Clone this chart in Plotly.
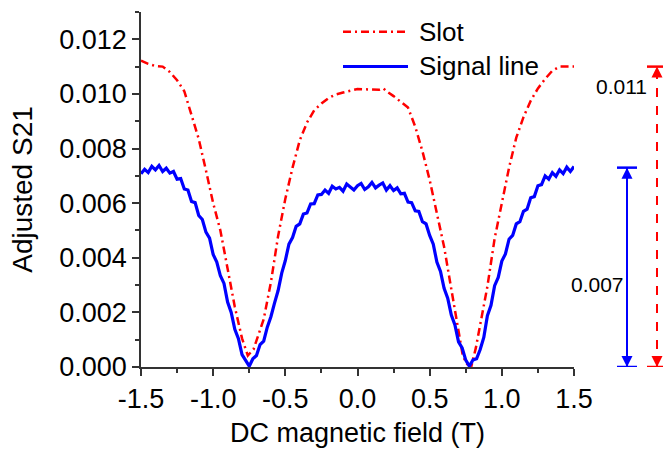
import numpy as np
import plotly.graph_objects as go

# ---- data -------------------------------------------------------------
# Slot response (dash-dot trace)
field_slot = [-1.50, -1.45, -1.40, -1.35, -1.30, -1.25, -1.20, -1.15, -1.10, -1.05,
              -1.00, -0.95, -0.90, -0.85, -0.80, -0.76, -0.72, -0.70, -0.65, -0.60,
              -0.55, -0.50, -0.45, -0.40, -0.35, -0.30, -0.25, -0.20, -0.15, -0.10,
              -0.05, 0.00, 0.05, 0.10, 0.15, 0.18, 0.20, 0.25, 0.30, 0.35,
              0.40, 0.45, 0.50, 0.55, 0.60, 0.65, 0.70, 0.73, 0.76, 0.79,
              0.82, 0.85, 0.90, 0.95, 1.00, 1.05, 1.10, 1.15, 1.20, 1.25,
              1.30, 1.35, 1.40, 1.45, 1.50]
s21_slot = [0.01122, 0.01110, 0.01102, 0.01100, 0.01080, 0.01050, 0.01010, 0.00925, 0.00835, 0.00720,
            0.00600, 0.00500, 0.00355, 0.00220, 0.00105, 0.00042, 0.00065, 0.00095, 0.00175, 0.00310,
            0.00480, 0.00616, 0.00730, 0.00830, 0.00895, 0.00940, 0.00965, 0.00985, 0.00998, 0.01005,
            0.01012, 0.01018, 0.01017, 0.01015, 0.01015, 0.01020, 0.01010, 0.00992, 0.00972, 0.00950,
            0.00880, 0.00790, 0.00685, 0.00565, 0.00440, 0.00285, 0.00125, 0.00040, 0.00010, 0.00005,
            0.00070, 0.00155, 0.00295, 0.00470, 0.00600, 0.00730, 0.00840, 0.00915, 0.00975, 0.01020,
            0.01055, 0.01085, 0.01100, 0.01100, 0.01100]

# Signal line response (solid trace), sampled every 0.025 T
field_signal = np.round(np.linspace(-1.5, 1.5, 121), 3)
s21_signal = [0.00708, 0.00724, 0.00712, 0.00735, 0.00722, 0.00738, 0.00716, 0.00728, 0.00710, 0.00716,
              0.00688, 0.00690, 0.00652, 0.00648, 0.00606, 0.00602, 0.00555, 0.00540, 0.00494, 0.00472,
              0.00412, 0.00384, 0.00334, 0.00306, 0.00238, 0.00200, 0.00138, 0.00104, 0.00045, 0.00025,
              0.00003, 0.00030, 0.00042, 0.00082, 0.00095, 0.00146, 0.00184, 0.00234, 0.00280, 0.00344,
              0.00390, 0.00450, 0.00474, 0.00515, 0.00524, 0.00560, 0.00564, 0.00597, 0.00598, 0.00630,
              0.00632, 0.00648, 0.00636, 0.00662, 0.00652, 0.00658, 0.00644, 0.00670, 0.00660, 0.00648,
              0.00664, 0.00672, 0.00650, 0.00660, 0.00676, 0.00656, 0.00666, 0.00674, 0.00648, 0.00664,
              0.00646, 0.00656, 0.00634, 0.00636, 0.00604, 0.00602, 0.00572, 0.00570, 0.00532, 0.00524,
              0.00482, 0.00450, 0.00384, 0.00350, 0.00288, 0.00252, 0.00190, 0.00154, 0.00092, 0.00070,
              0.00025, 0.00003, 0.00026, 0.00030, 0.00064, 0.00108, 0.00188, 0.00226, 0.00298, 0.00328,
              0.00388, 0.00414, 0.00468, 0.00482, 0.00524, 0.00532, 0.00570, 0.00578, 0.00620, 0.00624,
              0.00664, 0.00668, 0.00700, 0.00688, 0.00712, 0.00698, 0.00722, 0.00708, 0.00732, 0.00716,
              0.00734]

# Axis ticks
x_tickvals = [-1.5, -1.0, -0.5, 0.0, 0.5, 1.0, 1.5]
x_ticktext = ["-1.5", "-1.0", "-0.5", "0.0", "0.5", "1.0", "1.5"]

# Peak-to-dip spans marked at the right of the plot
span_names = ["Signal line", "Slot"]
span_values = [0.0073, 0.011]

RED = "#ff0000"
BLUE = "#0000ff"
FONT = "Liberation Sans, Arial, sans-serif"
SLOT_DASH = "8px,4px,2px,4px"

fig = go.Figure()
fig.add_trace(go.Scatter(x=field_slot, y=s21_slot, mode="lines", name="Slot",
                         line=dict(color=RED, width=2.5, dash=SLOT_DASH),
                         showlegend=False))
fig.add_trace(go.Scatter(x=field_signal, y=s21_signal, mode="lines", name="Signal line",
                         line=dict(color=BLUE, width=3.2), showlegend=False))

# ---- geometry helpers (plot area in pixels) ----------------------------
W, H = 663, 455
L, R, T, B = 141, 89, 12, 84
pw, ph = W - L - R, H - T - B


def px(xp):
    return (xp - L) / pw


def py(yp):
    return (H - B - yp) / ph


shapes = []
annotations = []

# hand-drawn legend
legend_rows = [("Slot", RED, SLOT_DASH, 2.5, 32), ("Signal line", BLUE, "solid", 3, 67)]
for label, color, dash, lw, yrow in legend_rows:
    shapes.append(dict(type="line", xref="paper", yref="paper",
                       x0=px(343), x1=px(408), y0=py(yrow), y1=py(yrow),
                       line=dict(color=color, width=lw, dash=dash)))
    annotations.append(dict(xref="paper", yref="paper", x=px(417), y=py(yrow),
                            text=label, showarrow=False, xanchor="left", yanchor="middle",
                            font=dict(family=FONT, size=26, color="black")))

# span markers
span_style = {
    "Signal line": dict(color=BLUE, xc=627, dash="solid", label_xy=(597, 288)),
    "Slot": dict(color=RED, xc=657, dash="dash", label_xy=(621, 87)),
}
for name, val in zip(span_names, span_values):
    st = span_style[name]
    xc = px(st["xc"])
    cap0, cap1 = px(st["xc"] - 10), px(st["xc"] + 10)
    shapes.append(dict(type="line", xref="paper", yref="y", x0=xc, x1=xc, y0=0, y1=val,
                       line=dict(color=st["color"], width=2, dash=st["dash"])))
    for yv in (0, val):
        shapes.append(dict(type="line", xref="paper", yref="y", x0=cap0, x1=cap1,
                           y0=yv, y1=yv, line=dict(color=st["color"], width=2.5)))
    # arrowheads at both ends
    for yv, ay in ((val, 12), (0, -12)):
        annotations.append(dict(xref="paper", yref="y", x=xc, y=yv, text="",
                                showarrow=True, arrowhead=2, arrowsize=1.1, arrowwidth=2,
                                arrowcolor=st["color"], ax=0, ay=ay, standoff=0))
    lx, ly = st["label_xy"]
    annotations.append(dict(xref="paper", yref="paper", x=px(lx), y=py(ly),
                            text=f"{val:.3f}", showarrow=False,
                            xanchor="center", yanchor="middle",
                            font=dict(family=FONT, size=21, color="black")))

axis_common = dict(
    showline=True, linecolor="#333333", linewidth=1.5,
    ticks="outside", ticklen=7, tickwidth=1.5, tickcolor="#333333",
    showgrid=False, zeroline=False,
    tickfont=dict(family=FONT, size=27, color="black"),
    mirror=False,
)

fig.update_layout(
    width=W, height=H, autosize=False,
    margin=dict(l=L, r=R, t=T, b=B),
    paper_bgcolor="white", plot_bgcolor="white",
    shapes=shapes, annotations=annotations,
    xaxis=dict(axis_common, range=[-1.5, 1.5], tickmode="array",
               tickvals=x_tickvals, ticktext=x_ticktext,
               minor=dict(ticks="outside", ticklen=4, tickwidth=1.5, tickcolor="#333333",
                          tickmode="linear", tick0=-1.5, dtick=0.25),
               title=dict(text="DC magnetic field (T)", standoff=10,
                          font=dict(family=FONT, size=27, color="black"))),
    yaxis=dict(axis_common, range=[0, 0.013], tick0=0, dtick=0.002, tickformat=".3f",
               minor=dict(ticks="outside", ticklen=4, tickwidth=1.5, tickcolor="#333333", dtick=0.001),
               title=dict(text="Adjusted S21", standoff=18,
                          font=dict(family=FONT, size=28, color="black"))),
)

fig.write_html("out.html")
